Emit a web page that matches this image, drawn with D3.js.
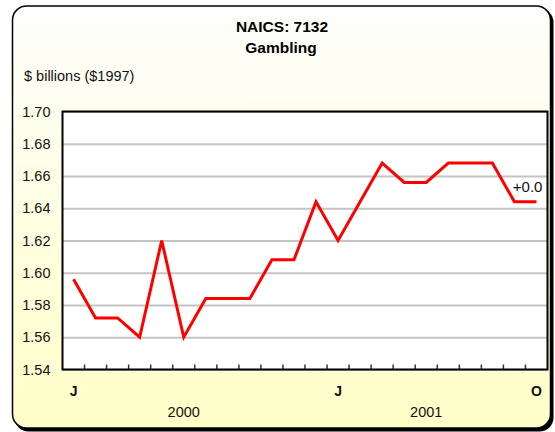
<!DOCTYPE html>
<html>
<head>
<meta charset="utf-8">
<script src="https://cdnjs.cloudflare.com/ajax/libs/d3/7.8.5/d3.min.js"></script>
<style>
  body { margin: 0; background: #fff; }
  svg { display: block; font-family: "Liberation Sans", Arial, sans-serif; }
</style>
</head>
<body>
<svg id="chart" width="555" height="432"></svg>
<script>
// monthly values, Jan 2000 .. Oct 2001
var months = ["J","F","M","A","M","J","J","A","S","O","N","D",
              "J","F","M","A","M","J","J","A","S","O"];
var values = [1.596, 1.572, 1.572, 1.560, 1.620, 1.560, 1.584, 1.584, 1.584, 1.608, 1.608, 1.644,
              1.620, 1.644, 1.668, 1.656, 1.656, 1.668, 1.668, 1.668, 1.644, 1.644];
var labelledMonths = [0, 12, 21];
var years = ["2000", "2001"];
var yearAnchor = [5, 16];      // month index under which the year label sits
var yTicks = [1.54, 1.56, 1.58, 1.60, 1.62, 1.64, 1.66, 1.68, 1.70];
var changeLabel = "+0.0";

var svg = d3.select("#chart");

// panel background
var defs = svg.append("defs");
var grad = defs.append("linearGradient").attr("id", "bg")
    .attr("x1", 0).attr("y1", 0).attr("x2", 0).attr("y2", 1);
grad.append("stop").attr("offset", "0%").attr("stop-color", "#fefefc");
grad.append("stop").attr("offset", "100%").attr("stop-color", "#ffffc8");

// shadow then panel
svg.append("rect")
    .attr("x", 14.5).attr("y", 8.5).attr("width", 539).attr("height", 423)
    .attr("rx", 14).attr("fill", "#000");
svg.append("rect")
    .attr("x", 12.5).attr("y", 6).attr("width", 538).attr("height", 422)
    .attr("rx", 14).attr("fill", "url(#bg)")
    .attr("stroke", "#000").attr("stroke-width", 1.5);

// titles
svg.append("text").attr("x", 282).attr("y", 32)
    .attr("text-anchor", "middle").attr("font-size", 15.5).attr("font-weight", "bold")
    .text("NAICS: 7132");
svg.append("text").attr("x", 281).attr("y", 53)
    .attr("text-anchor", "middle").attr("font-size", 15.5).attr("font-weight", "bold")
    .text("Gambling");
svg.append("text").attr("x", 24).attr("y", 81)
    .attr("font-size", 14.5).attr("fill", "#111")
    .text("$ billions ($1997)");

var plotL = 62.5, plotR = 547.5, plotT = 111.5, plotB = 369.5;

var x = d3.scaleBand().domain(d3.range(values.length)).range([plotL, plotR]);
var y = d3.scaleLinear().domain([1.54, 1.70]).range([plotB, plotT]);

svg.append("rect")
    .attr("x", plotL).attr("y", plotT)
    .attr("width", plotR - plotL).attr("height", plotB - plotT)
    .attr("fill", "#fff");

// gridlines
var grid = svg.append("g").attr("transform", "translate(" + plotL + ",0)")
    .call(d3.axisLeft(y).tickValues(yTicks).tickSize(-(plotR - plotL)).tickFormat(""));
grid.select(".domain").remove();
grid.selectAll("line").attr("stroke", "#c4c4c4").attr("stroke-width", 2);

// y tick labels
var yAxis = svg.append("g").attr("transform", "translate(" + plotL + ",0)")
    .call(d3.axisLeft(y).tickValues(yTicks).tickSize(0).tickPadding(12)
        .tickFormat(d3.format(".2f")));
yAxis.select(".domain").remove();
yAxis.selectAll("text").attr("font-size", 14.5).attr("fill", "#111")
    .attr("font-family", "Liberation Sans, Arial, sans-serif");

// small month ticks at band edges
svg.append("g").selectAll("line")
    .data(d3.range(1, values.length))
    .join("line")
    .attr("x1", function(i){ return x(i); })
    .attr("x2", function(i){ return x(i); })
    .attr("y1", plotB).attr("y2", plotB - 5)
    .attr("stroke", "#333").attr("stroke-width", 1.5);

// month letters
var xAxis = svg.append("g").attr("transform", "translate(0," + plotB + ")")
    .call(d3.axisBottom(x).tickValues(labelledMonths).tickSize(0).tickPadding(17)
        .tickFormat(function(i){ return months[i]; }));
xAxis.select(".domain").remove();
xAxis.selectAll("text").attr("font-size", 14).attr("font-weight", "bold").attr("fill", "#111")
    .attr("font-family", "Liberation Sans, Arial, sans-serif");

// years
svg.append("g").selectAll("text")
    .data(years)
    .join("text")
    .attr("x", function(d, i){ return x(yearAnchor[i]) + x.bandwidth() / 2; })
    .attr("y", 417)
    .attr("text-anchor", "middle").attr("font-size", 14.5).attr("fill", "#111")
    .text(function(d){ return d; });

// series line
var line = d3.line()
    .x(function(d, i){ return x(i) + x.bandwidth() / 2; })
    .y(function(d){ return y(d); });
svg.append("path").datum(values)
    .attr("d", line)
    .attr("fill", "none").attr("stroke", "#ff0000").attr("stroke-width", 3)
    .attr("stroke-linejoin", "miter");

// plot frame
svg.append("rect")
    .attr("x", plotL).attr("y", plotT)
    .attr("width", plotR - plotL).attr("height", plotB - plotT)
    .attr("fill", "none").attr("stroke", "#000").attr("stroke-width", 2);

// change label
svg.append("text")
    .attr("x", x(values.length - 1) + x.bandwidth() / 2 + 6)
    .attr("y", y(values[values.length - 1]) - 10)
    .attr("text-anchor", "end").attr("font-size", 15).attr("fill", "#111")
    .text(changeLabel);
</script>
</body>
</html>
